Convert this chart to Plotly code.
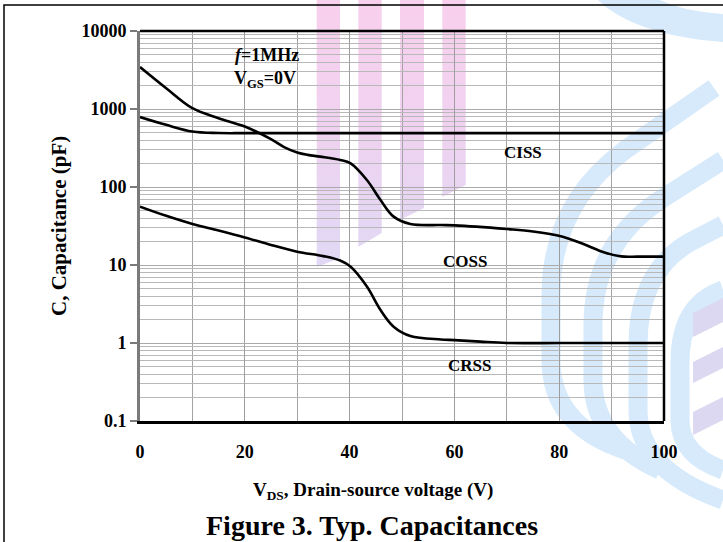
import base64
import plotly.graph_objects as go

# ---------------- data ----------------
vds_coss = [0, 5, 10, 15, 20, 25, 27.5, 30, 32, 34.4, 38.2, 40.2, 43.3, 45.9, 48.4, 51.6,
            57.4, 60, 70, 75, 80.5, 84.5, 88.5, 91.8, 95, 100]
coss = [3450, 1845, 1023, 762, 596, 410, 325, 277, 258, 245, 222, 201, 123, 68, 41.7, 33.6,
        32.5, 32.2, 28.9, 26.9, 23.2, 18.7, 14.6, 12.9, 12.8, 12.8]

vds_ciss = [0, 5, 10, 15, 20, 40, 60, 80, 100]
ciss = [789, 626, 514, 492, 490, 490, 490, 490, 490]

vds_crss = [0, 5, 10, 15, 20, 25, 30, 35, 38.2, 40.2, 43.3, 45.9, 48.4, 51.6,
            57.4, 60, 65, 70, 80, 90, 100]
crss = [56, 42.7, 33.6, 27.7, 22.6, 18.1, 14.8, 13.0, 11.4, 9.5, 5.3, 2.65, 1.62,
        1.23, 1.11, 1.09, 1.04, 1.0, 1.0, 1.0, 1.0]

x_ticks = [0, 20, 40, 60, 80, 100]
x_minor = [10, 30, 50, 70, 90]
y_ticks = [0.1, 1, 10, 100, 1000, 10000]
y_ticktext = ["0.1", "1", "10", "100", "1000", "10000"]
y_minor = [k * 10 ** e for e in range(-1, 4) for k in range(2, 10)]

FONT = "Liberation Serif, Times New Roman, serif"
W, H = 723, 542
ML, MR, MT, MB = 140, 59, 31, 121
PW, PH = W - ML - MR, H - MT - MB

# ---------------- background watermark (decoration) ----------------
svg = f'''<svg xmlns="http://www.w3.org/2000/svg" width="{W}" height="{H}" viewBox="0 0 {W} {H}">
<defs><linearGradient id="pk" x1="0" y1="0" x2="0" y2="270" gradientUnits="userSpaceOnUse">
<stop offset="0" stop-color="#f8d0ed"/><stop offset="0.45" stop-color="#f0d2f0"/>
<stop offset="1" stop-color="#e0d9f5"/></linearGradient></defs>
<path d="M316.7,0 L340,0 L340,258 L316.7,267 Z" fill="url(#pk)"/>
<path d="M358.3,0 L381.7,0 L381.7,233 L358.3,247 Z" fill="url(#pk)"/>
<path d="M400,0 L424,0 L424,208 L400,220 Z" fill="url(#pk)"/>
<path d="M442.3,0 L465.7,0 L465.7,185 L442.3,197 Z" fill="url(#pk)"/>
<path d="M598,0 C620,22 665,38 723,42 L723,14 C695,12 675,7 660,0 Z" fill="#d6eafb"/>
<g fill="none" stroke="#d6eafb" stroke-width="19">
<path d="M714,88 L625,150 Q551,205 551,295 L551,360 Q551,425 625,450"/>
<path d="M723,160 L660,200 Q593,245 593,325 L593,380 Q593,440 660,470"/>
<path d="M723,225 L690,242 Q638,272 638,345 L638,410 Q638,470 723,500"/>
<path d="M723,290 Q680,305 680,362 L680,420 Q680,455 723,470"/>
</g>
<g fill="#dcd8f2">
<path d="M693,313 L723,298 L723,322 L693,337 Z"/>
<path d="M693,362 L723,347 L723,368 L693,383 Z"/>
<path d="M693,412 L723,397 L723,420 L693,435 Z"/>
</g>
<path d="M4,542 L4,5 L723,5" fill="none" stroke="#000" stroke-width="1.5"/>
</svg>'''
src = "data:image/svg+xml;base64," + base64.b64encode(svg.encode()).decode()

fig = go.Figure()
line_style = dict(color="black", width=2.6, shape="spline", smoothing=1.0)
for xs, ys, name in [(vds_coss, coss, "COSS"), (vds_ciss, ciss, "CISS"), (vds_crss, crss, "CRSS")]:
    fig.add_trace(go.Scatter(x=xs, y=ys, mode="lines", line=line_style, name=name,
                             showlegend=False, hoverinfo="x+y"))

fig.update_layout(
    width=W, height=H,
    margin=dict(l=ML, r=MR, t=MT, b=MB, pad=0),
    paper_bgcolor="white", plot_bgcolor="rgba(0,0,0,0)",
    font=dict(family=FONT, color="black"),
    images=[dict(source=src, xref="paper", yref="paper",
                 x=-ML / PW, y=1 + MT / PH, sizex=W / PW, sizey=H / PH,
                 xanchor="left", yanchor="top", sizing="stretch", layer="below")],
    xaxis=dict(
        range=[0, 100], tickvals=x_ticks, ticktext=[str(v) for v in x_ticks],
        showgrid=True, gridcolor="#9e9e9e", gridwidth=1,
        minor=dict(tickvals=x_minor, showgrid=True, gridcolor="#a4a4a4", gridwidth=1, ticks=""),
        ticks="", ticklabelstandoff=12,
        tickfont=dict(family=FONT, size=18, weight="bold"),
        showline=True, linecolor="black", linewidth=3, zeroline=False, fixedrange=True,
    ),
    yaxis=dict(
        type="log", range=[-1, 4], tickvals=y_ticks, ticktext=y_ticktext,
        showgrid=True, gridcolor="#aaaaaa", gridwidth=1,
        minor=dict(tickvals=y_minor, showgrid=True, gridcolor="#b8b8b8", gridwidth=1, ticks=""),
        ticks="outside", ticklen=7, tickwidth=2, tickcolor="#7a7a7a",
        tickfont=dict(family=FONT, size=18, weight="bold"),
        showline=True, linecolor="#7a7a7a", linewidth=3, zeroline=False, fixedrange=True,
    ),
    shapes=[
        dict(type="line", xref="paper", yref="paper", x0=0, x1=1, y0=1, y1=1,
             line=dict(color="black", width=2.5)),
        dict(type="line", xref="paper", yref="paper", x0=1, x1=1, y0=0, y1=1,
             line=dict(color="black", width=2.5)),
    ],
)

def lab(text, x, y, size=17, xref="x", yref="y", angle=0):
    fig.add_annotation(text=text, x=x, y=y, xref=xref, yref=yref, showarrow=False,
                       textangle=angle, xanchor="center", yanchor="middle",
                       font=dict(family=FONT, size=size, color="black", weight="bold"))

lab("CISS", 73.0, 2.442)
lab("COSS", 62.0, 1.051)
lab("CRSS", 62.8, -0.288)
lab("<i>f</i>=1MHz", 24.3, 3.692, size=18)
lab("V<sub>GS</sub>=0V", 23.9, 3.38, size=18)
lab("V<sub>DS</sub>, Drain-source voltage (V)", (372.5 - ML) / PW, (MT + PH - 491) / PH,
    size=19, xref="paper", yref="paper")
lab("C, Capacitance (pF)", (59 - ML) / PW, (MT + PH - 226) / PH,
    size=21, xref="paper", yref="paper", angle=-90)
lab("Figure 3. Typ. Capacitances", (372 - ML) / PW, (MT + PH - 525) / PH,
    size=28, xref="paper", yref="paper")

fig.write_html("out.html")
